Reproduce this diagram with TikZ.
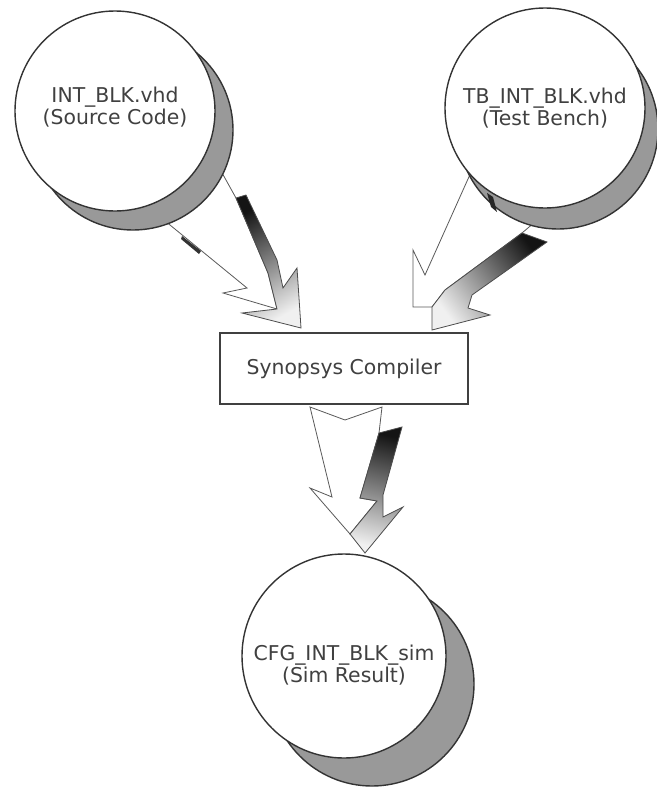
\documentclass[tikz,border=0pt]{standalone}
\usepackage{fontspec}
\setmainfont{DejaVu Sans}
\usetikzlibrary{positioning}

\begin{document}
\begin{tikzpicture}
            [x=0.25mm, y=-0.25mm,
             txt/.style = {align=center, text=black!75, font=\fontsize{14.5}{14.2}\selectfont},
             disk/.style = {circle, draw=black!80, line width=0.35mm, fill=white, minimum size=50mm, inner sep=0pt},
             shadow/.style = {circle, draw=black!80, line width=0.35mm, fill=black!40, minimum size=50mm, inner sep=0pt},
             face/.style = {draw=black!65, line width=0.2mm, fill=white, line join=miter},
             wall/.style = {draw=black!70, line width=0.2mm, top color=black!92, bottom color=black!6, line join=miter}]

            \useasboundingbox (0,0) rectangle (657,791);

            \draw[face] (159,216) -- (247,288) -- (223,293) -- (277,309) -- (268,273) -- (236,198) -- (221,171) -- cycle;
            \draw[wall, shading angle=30] (236,198) -- (246,195) -- (277,260) -- (283,288) -- (297,268) -- (301,328) -- (242,313) -- (277,309) -- (268,273) -- cycle;
            \fill[black!80] (182,236) -- (201,251) -- (199,254) -- (181,239) -- cycle;

            \draw[face] (472,170) -- (425,275) -- (413,250) -- (413,307) -- (432,307) -- (445,290) -- (522,233) -- (535,222) -- cycle;
            \draw[wall, shading angle=-53] (445,290) -- (522,233) -- (547,242) -- (472,295) -- (468,308) -- (490,315) -- (432,330) -- (432,307) -- cycle;

            \draw[face] (310,407) -- (345,420) -- (382,407) -- (379,433) -- (360,498) -- (377,501) -- (350,534) -- (310,488) -- (332,497) -- cycle;
            \draw[wall, shading angle=-14] (379,433) -- (402,427) -- (383,495) -- (383,517) -- (403,507) -- (365,553) -- (350,534) -- (377,501) -- (360,498) -- cycle;

            \node[shadow] (s1) at (133,130) {};
            \node[shadow] (s2) at (558,129) {};
            \node[shadow, minimum size=51mm] (s3) at (372,684) {};

            \fill[black!85] (487,193) -- (493,197) -- (497,212) -- (491,207) -- cycle;

            \node[disk, label={[txt, yshift=1mm]center:{INT\_BLK.vhd\\(Source Code)}}] (a) at (115,111) {};
            \node[disk, label={[txt]center:{TB\_INT\_BLK.vhd\\(Test Bench)}}] (b) at (545,108) {};
            \node[disk, minimum size=51mm, label={[txt, yshift=-2.2mm]center:{CFG\_INT\_BLK\_sim\\(Sim Result)}}] (d) at (344,656) {};

            \node[txt, draw=black!75, line width=0.5mm, fill=white, minimum width=62mm, minimum height=17.75mm, inner sep=0pt] (c) at (344,368.5) {Synopsys Compiler};

        \end{tikzpicture}
\end{document}
